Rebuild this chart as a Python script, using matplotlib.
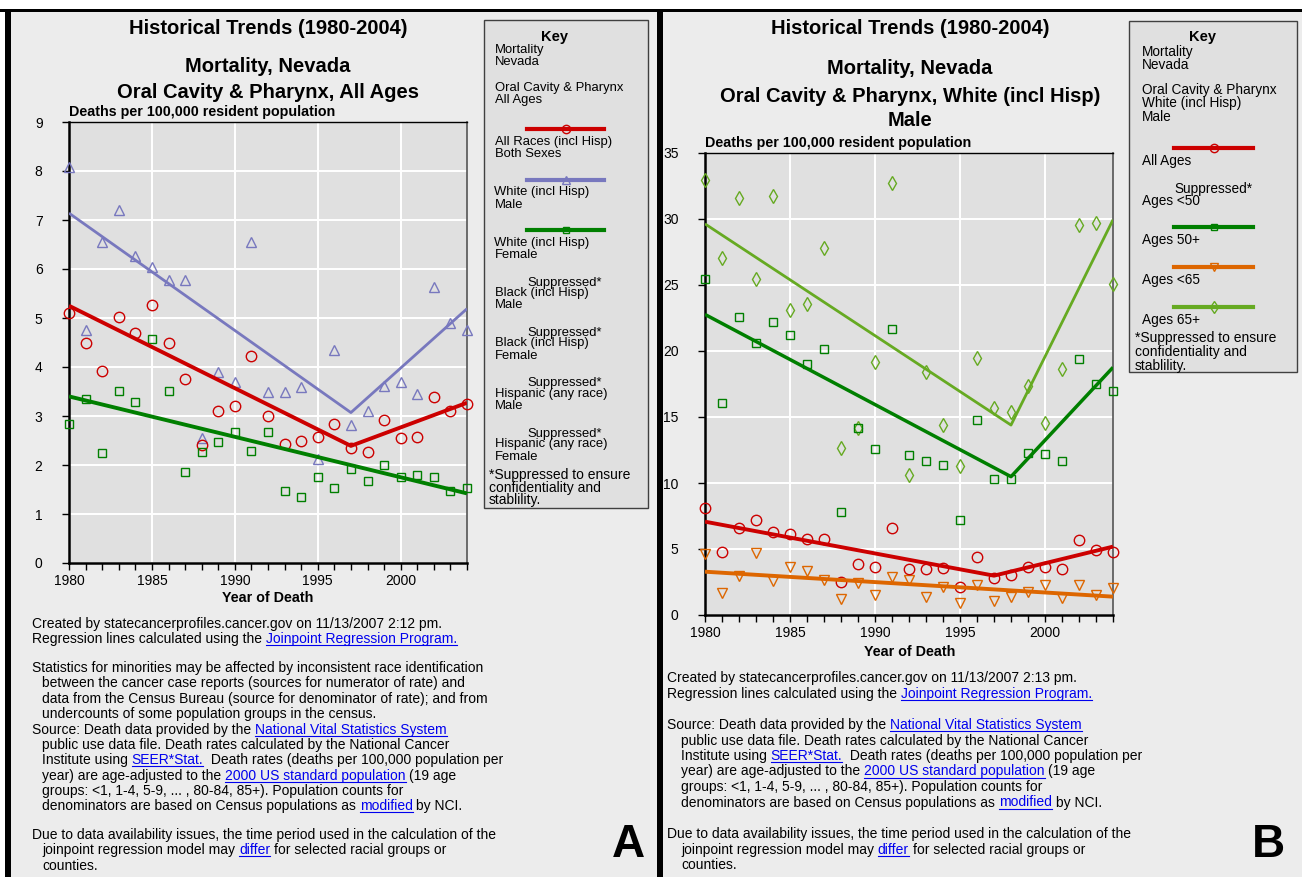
import matplotlib
matplotlib.use('Agg')
import matplotlib.pyplot as plt
from matplotlib.patches import Rectangle
from matplotlib.lines import Line2D

W, H = 1302, 877
FONT = 'Liberation Sans'
plt.rcParams['font.family'] = [FONT, 'DejaVu Sans']

years = list(range(1980, 2005))

# ---- panel A: all ages, Nevada ----
a_all_races = [5.10, 4.48, 3.92, 5.02, 4.70, 5.26, 4.48, 3.75, 2.41, 3.11, 3.21, 4.23, 2.99,
               2.43, 2.49, 2.57, 2.83, 2.35, 2.27, 2.91, 2.56, 2.57, 3.39, 3.10, 3.24]
a_white_male = [8.08, 4.75, 6.56, 7.20, 6.27, 6.04, 5.78, 5.77, 2.55, 3.89, 3.69, 6.55, 3.50,
                3.48, 3.60, 2.12, 4.35, 2.82, 3.10, 3.62, 3.69, 3.45, 5.64, 4.90, 4.75]
a_white_female = [2.83, 3.34, 2.24, 3.52, 3.29, 4.57, 3.52, 1.86, 2.27, 2.47, 2.68, 2.29, 2.68,
                  1.46, 1.35, 1.75, 1.53, 1.91, 1.68, 1.99, 1.75, 1.79, 1.75, 1.47, 1.53]
a_all_races_fit = ([1980, 1997, 2004], [5.25, 2.39, 3.27])
a_white_male_fit = ([1980, 1997, 2004], [7.14, 3.07, 5.19])
a_white_female_fit = ([1980, 2004], [3.40, 1.42])

# ---- panel B: white male, by age ----
b_all_ages = [8.08, 4.80, 6.57, 7.20, 6.31, 6.14, 5.76, 5.76, 2.53, 3.86, 3.66, 6.62, 3.48,
              3.48, 3.54, 2.15, 4.37, 2.78, 3.03, 3.66, 3.66, 3.48, 5.68, 4.92, 4.80]
b_50plus = [25.46, 16.09, 22.6, 20.63, 22.2, 21.2, 18.99, 20.13, 7.78, 14.14, 12.58, 21.67, 12.12,
            11.69, 11.36, 7.20, 14.77, 10.28, 10.28, 12.25, 12.17, 11.69, 19.37, 17.47, 17.0]
b_lt65 = [4.60, 1.64, 2.98, 4.67, 2.60, 3.66, 3.36, 2.65, 1.19, 2.40, 1.52, 2.90, 2.65,
          1.39, 2.15, 0.88, 2.27, 1.06, 1.39, 1.77, 2.27, 1.31, 2.27, 1.52, 2.02]
b_65plus = [32.97, 27.03, 31.58, 25.46, 31.78, 23.1, 23.53, 27.84, 12.68, 14.19, 19.19, 32.72, 10.61,
            18.43, 14.39, 11.31, 19.44, 15.66, 15.35, 17.37, 14.52, 18.64, 29.51, 29.73, 25.08]
b_all_ages_fit = ([1980, 1997, 2004], [7.07, 2.98, 5.18])
b_50plus_fit = ([1980, 1998, 2004], [22.77, 10.48, 18.76])
b_lt65_fit = ([1980, 2004], [3.28, 1.39])
b_65plus_fit = ([1980, 1998, 2004], [29.63, 14.39, 29.94])

RED = '#cc0000'
BLUE = '#7878be'
GREEN = '#007f00'
LGREEN = '#66aa22'
ORANGE = '#dd6600'
LINK = '#0000ee'

TITLE = 14.5
SUB = 10.3
TICK = 10
KS = 9.4
FS = 10

fig = plt.figure(figsize=(W / 100, H / 100), dpi=100, facecolor='#ececec')
renderer = fig.canvas.get_renderer()


def rect(x0, y0, x1, y1, **kw):
    fig.add_artist(Rectangle((x0 / W, 1 - y1 / H), (x1 - x0) / W, (y1 - y0) / H,
                             transform=fig.transFigure, **kw))


def txt(x, y, s, size=9, **kw):
    return fig.text(x / W, 1 - y / H, s, fontsize=size, **kw)


# frame
rect(0, 0, W, 9, facecolor='white', edgecolor='none')
rect(0, 9, 5, H, facecolor='white', edgecolor='none')
rect(0, 9, W, 12, facecolor='black', edgecolor='none')
rect(5, 9, 11, H, facecolor='black', edgecolor='none')
rect(657, 9, 663, H, facecolor='black', edgecolor='none')


def setup(ax, ymax, ystep):
    ax.set_facecolor('#e0e0e0')
    ax.set_xlim(1980, 2004)
    ax.set_ylim(0, ymax)
    ax.set_xticks(range(1980, 2001, 5))
    ax.set_xticks(years, minor=True)
    ax.set_yticks(range(0, ymax + 1, ystep))
    ax.grid(True, which='major', color='white', lw=1.4)
    ax.set_axisbelow(True)
    ax.tick_params(axis='x', which='both', direction='out', length=5, width=1, labelsize=TICK, pad=3)
    ax.tick_params(axis='y', direction='out', length=5, width=1, labelsize=TICK, pad=14)
    ax.spines['left'].set_linewidth(1.8)
    ax.spines['bottom'].set_linewidth(1.8)
    ax.spines['top'].set_linewidth(1.0)
    ax.spines['right'].set_linewidth(1.2)
    ax.spines['right'].set_color('#555555')


def scatter(ax, vals, marker, color, ms):
    ax.plot(years, vals, ls='none', marker=marker, ms=ms, mfc='none', mec=color, mew=1,
            clip_on=False, zorder=3)


def fit(ax, f, color, lw):
    ax.plot(f[0], f[1], color=color, lw=lw, zorder=4, solid_capstyle='butt')


# ---- panel A ----
axA = fig.add_axes([69 / W, 1 - 563 / H, 398 / W, 441 / H])
setup(axA, 9, 1)
scatter(axA, a_white_male, '^', BLUE, 6.5)
scatter(axA, a_all_races, 'o', RED, 7.5)
scatter(axA, a_white_female, 's', GREEN, 5.5)
fit(axA, a_white_male_fit, BLUE, 2.0)
fit(axA, a_all_races_fit, RED, 2.8)
fit(axA, a_white_female_fit, GREEN, 2.8)

txt(268, 28, 'Historical Trends (1980-2004)', TITLE, weight='bold', ha='center', va='center')
txt(268, 67, 'Mortality, Nevada', TITLE, weight='bold', ha='center', va='center')
txt(268, 92, 'Oral Cavity & Pharynx, All Ages', TITLE, weight='bold', ha='center', va='center')
txt(69, 112, 'Deaths per 100,000 resident population', SUB, weight='bold', ha='left', va='center')
txt(268, 598, 'Year of Death', SUB, weight='bold', ha='center', va='center')

# ---- panel B ----
axB = fig.add_axes([705 / W, 1 - 615 / H, 408 / W, 462 / H])
setup(axB, 35, 5)
scatter(axB, b_65plus, 'd', LGREEN, 7.5)
scatter(axB, b_50plus, 's', GREEN, 5.5)
scatter(axB, b_lt65, 'v', ORANGE, 6.5)
scatter(axB, b_all_ages, 'o', RED, 7.5)
fit(axB, b_65plus_fit, LGREEN, 2.0)
fit(axB, b_50plus_fit, GREEN, 2.5)
fit(axB, b_lt65_fit, ORANGE, 2.8)
fit(axB, b_all_ages_fit, RED, 2.8)

txt(910, 29, 'Historical Trends (1980-2004)', TITLE, weight='bold', ha='center', va='center')
txt(910, 69, 'Mortality, Nevada', TITLE, weight='bold', ha='center', va='center')
txt(910, 96, 'Oral Cavity & Pharynx, White (incl Hisp)', TITLE, weight='bold', ha='center', va='center')
txt(910, 121, 'Male', TITLE, weight='bold', ha='center', va='center')
txt(705, 143, 'Deaths per 100,000 resident population', SUB, weight='bold', ha='left', va='center')
txt(910, 652, 'Year of Death', SUB, weight='bold', ha='center', va='center')

# ---- keys ----


def key_line(x0, x1, y, color, marker, ms):
    xm = (x0 + x1) / 2
    fig.add_artist(Line2D([x0 / W, x1 / W], [1 - y / H, 1 - y / H], color=color, lw=3,
                          transform=fig.transFigure))
    fig.add_artist(Line2D([xm / W], [1 - y / H], marker=marker, ms=ms, mfc='none', mec=color,
                          mew=1, ls='none', transform=fig.transFigure))


rect(484, 20, 648, 508, facecolor='#e0e0e0', edgecolor='#404040', lw=1)
txt(555, 37, 'Key', 10.5, weight='bold', ha='center', va='center')
keyA = [(495, 50, 'Mortality'), (495, 62, 'Nevada'),
        (495, 88, 'Oral Cavity & Pharynx'), (495, 100, 'All Ages'),
        (495, 142, 'All Races (incl Hisp)'), (495, 154, 'Both Sexes'),
        (494, 192, 'White (incl Hisp)'), (495, 205, 'Male'),
        (494, 243, 'White (incl Hisp)'), (495, 255, 'Female'),
        (527, 283, 'Suppressed*'), (495, 293, 'Black (incl Hisp)'), (495, 305, 'Male'),
        (527, 333, 'Suppressed*'), (495, 343, 'Black (incl Hisp)'), (495, 356, 'Female'),
        (527, 383, 'Suppressed*'), (495, 394, 'Hispanic (any race)'), (495, 406, 'Male'),
        (527, 434, 'Suppressed*'), (495, 444, 'Hispanic (any race)'), (495, 457, 'Female')]
for x, y, s in keyA:
    txt(x, y, s, KS, ha='left', va='center')
for y, s in [(475, '*Suppressed to ensure'), (488, 'confidentiality and'), (500, 'stablility.')]:
    txt(489, y, s, 10, ha='left', va='center')
key_line(527, 604, 129, RED, 'o', 6)
key_line(527, 604, 180, BLUE, '^', 5.5)
key_line(527, 604, 230, GREEN, 's', 5)

rect(1129, 21, 1297, 372, facecolor='#e0e0e0', edgecolor='#404040', lw=1)
txt(1203, 37, 'Key', 10.5, weight='bold', ha='center', va='center')
keyB = [(1142, 52, 'Mortality'), (1142, 65, 'Nevada'),
        (1142, 90, 'Oral Cavity & Pharynx'), (1142, 103, 'White (incl Hisp)'), (1142, 117, 'Male'),
        (1142, 161, 'All Ages'),
        (1174, 189, 'Suppressed*'), (1142, 201, 'Ages <50'),
        (1142, 240, 'Ages 50+'), (1142, 280, 'Ages <65'), (1142, 320, 'Ages 65+')]
for x, y, s in keyB:
    txt(x, y, s, KS + 0.4, ha='left', va='center')
for y, s in [(338, '*Suppressed to ensure'), (352, 'confidentiality and'), (366, 'stablility.')]:
    txt(1135, y, s, 10, ha='left', va='center')
key_line(1174, 1253, 148, RED, 'o', 6)
key_line(1174, 1253, 227, GREEN, 's', 5)
key_line(1174, 1253, 267, ORANGE, 'v', 5.5)
key_line(1174, 1253, 307, LGREEN, 'd', 6)

# ---- footnotes with link text ----
space_w = (txt(0, 0, 'a a', FS).get_window_extent(renderer).width
           - txt(0, 0, 'aa', FS).get_window_extent(renderer).width)
for t in fig.texts[-2:]:
    t.remove()


def rich(x, y, parts):
    cur = x
    for s, link in parts:
        t = txt(cur, y, s, FS, color=LINK if link else 'black', ha='left', va='baseline')
        w = t.get_window_extent(renderer).width
        if link:
            fig.add_artist(Line2D([cur / W, (cur + w) / W], [1 - (y + 2) / H] * 2, color=LINK,
                                  lw=0.8, transform=fig.transFigure))
        cur += w + space_w


def notes(x, ind, lines):
    for y, indent, parts in lines:
        rich(x + (ind if indent else 0), y, parts)


created = 'Created by statecancerprofiles.cancer.gov on 11/13/2007 {} pm.'
source_block = [
    (False, [('Source: Death data provided by the', 0), ('National Vital Statistics System', 1)]),
    (True, [('public use data file. Death rates calculated by the National Cancer', 0)]),
    (True, [('Institute using', 0), ('SEER*Stat.', 1), (' Death rates (deaths per 100,000 population per', 0)]),
    (True, [('year) are age-adjusted to the', 0), ('2000 US standard population', 1), ('(19 age', 0)]),
    (True, [('groups: <1, 1-4, 5-9, ... , 80-84, 85+). Population counts for', 0)]),
    (True, [('denominators are based on Census populations as', 0), ('modified', 1), ('by NCI.', 0)]),
]
due_block = [
    (False, [('Due to data availability issues, the time period used in the calculation of the', 0)]),
    (True, [('joinpoint regression model may', 0), ('differ', 1), ('for selected racial groups or', 0)]),
    (True, [('counties.', 0)]),
]
regr = [('Regression lines calculated using the', 0), ('Joinpoint Regression Program.', 1)]

linesA = [(628, False, [(created.format('2:12'), 0)]), (643, False, regr)]
stats = ['Statistics for minorities may be affected by inconsistent race identification',
         'between the cancer case reports (sources for numerator of rate) and',
         'data from the Census Bureau (source for denominator of rate); and from',
         'undercounts of some population groups in the census.']
for i, s in enumerate(stats):
    linesA.append((672 + 15.3 * i, i > 0, [(s, 0)]))
for i, (ind, p) in enumerate(source_block):
    linesA.append((734 + 15.2 * i, ind, p))
for i, (ind, p) in enumerate(due_block):
    linesA.append((839 + 15.3 * i, ind, p))
notes(32, 10, linesA)

linesB = [(682, False, [(created.format('2:13'), 0)]), (698, False, regr)]
for i, (ind, p) in enumerate(source_block):
    linesB.append((729 + 15.5 * i, ind, p))
for i, (ind, p) in enumerate(due_block):
    linesB.append((838 + 15.7 * i, ind, p))
notes(667, 14, linesB)

txt(628, 845, 'A', 33, weight='bold', ha='center', va='center', family='Liberation Sans')
txt(1268, 845, 'B', 33, weight='bold', ha='center', va='center', family='Liberation Sans')

fig.savefig('out.png', dpi=100, facecolor=fig.get_facecolor())
